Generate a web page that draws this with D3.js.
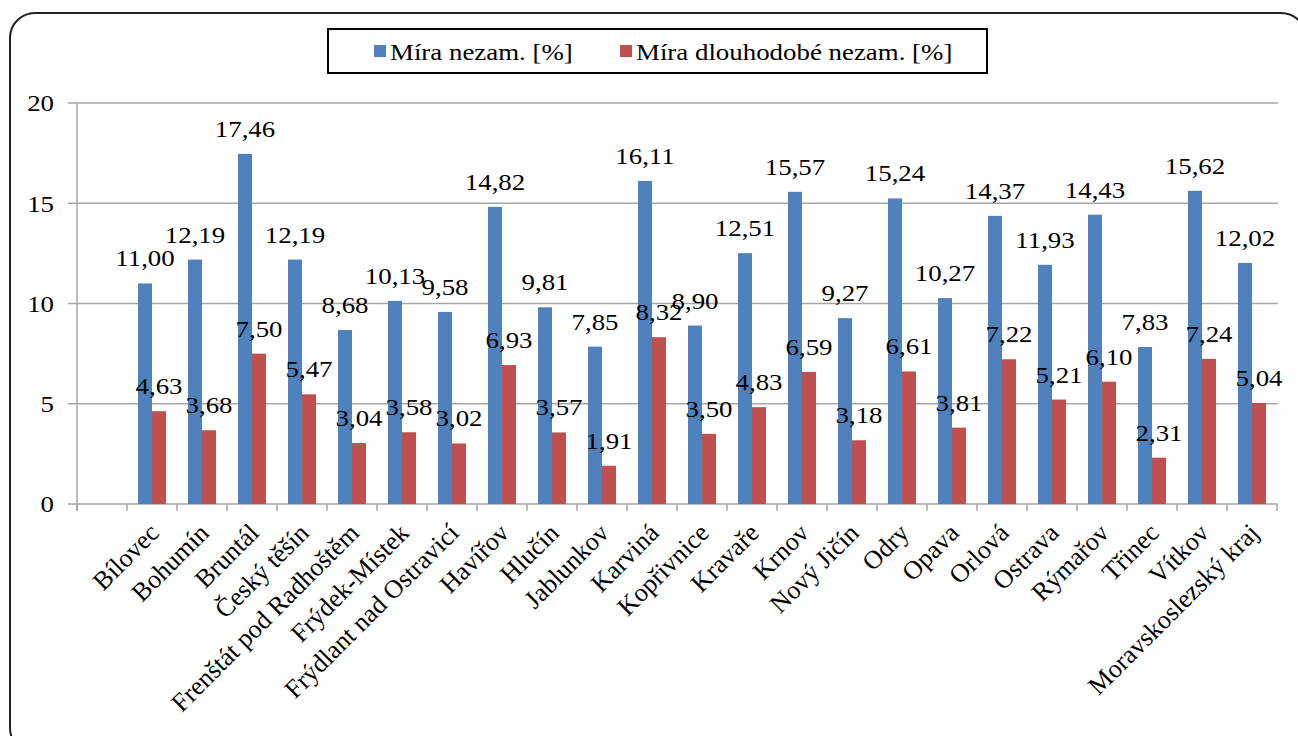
<!DOCTYPE html>
<html><head><meta charset="utf-8">
<script src="https://cdn.jsdelivr.net/npm/d3@7"></script>
<style>
body{margin:0;background:#fff;}
</style></head>
<body><svg id="c" width="1298" height="736"></svg>
<script>
const categories = ["", "Bílovec","Bohumín","Bruntál","Český těšín","Frenštát pod Radhoštěm","Frýdek-Místek","Frýdlant nad Ostravicí","Havířov","Hlučín","Jablunkov","Karviná","Kopřivnice","Kravaře","Krnov","Nový Jičín","Odry","Opava","Orlová","Ostrava","Rýmařov","Třinec","Vítkov","Moravskoslezský kraj"];
const miraNezam = [null,11.00,12.19,17.46,12.19,8.68,10.13,9.58,14.82,9.81,7.85,16.11,8.90,12.51,15.57,9.27,15.24,10.27,14.37,11.93,14.43,7.83,15.62,12.02];
const miraDlouhodobe = [null,4.63,3.68,7.50,5.47,3.04,3.58,3.02,6.93,3.57,1.91,8.32,3.50,4.83,6.59,3.18,6.61,3.81,7.22,5.21,6.10,2.31,7.24,5.04];
const seriesNames = ["Míra nezam. [%]","Míra dlouhodobé nezam. [%]"];
const yTicks = [0,5,10,15,20];
const colors = ["#4f81bd","#c0504d"];

const FONT = '"Liberation Serif", "Times New Roman", Times, serif';
const svg = d3.select("#c").attr("font-family",FONT);
const L=77, R=1277, T=103, B=504;
const sx = 1.12;
// frame
svg.append("rect").attr("x",10).attr("y",13).attr("width",1296).attr("height",740)
  .attr("rx",25).attr("fill","none").attr("stroke","#222").attr("stroke-width",2);

const x = d3.scaleBand().domain(categories.map((c,i)=>i)).range([L,R]).padding(0);
const bw = x.bandwidth();
const x1 = d3.scaleBand().domain([0,1]).range([bw*0.22,bw*0.78]).padding(0);
const y = d3.scaleLinear().domain([0,20]).range([B,T]);

// gridlines
svg.append("g").selectAll("line").data(yTicks).join("line")
  .attr("x1",68).attr("x2",R+1).attr("y1",d=>y(d)).attr("y2",d=>y(d))
  .attr("stroke","#a6a6a6").attr("stroke-width",1.5);
// y axis line
svg.append("line").attr("x1",L).attr("x2",L).attr("y1",T).attr("y2",B+7)
  .attr("stroke","#a6a6a6").attr("stroke-width",1.5);
// x ticks
const bounds = categories.map((c,i)=>x(i)).concat([R]);
svg.append("g").selectAll("line").data(bounds).join("line")
  .attr("x1",d=>d).attr("x2",d=>d).attr("y1",B).attr("y2",B+7)
  .attr("stroke","#a6a6a6").attr("stroke-width",1.5);
// y labels
svg.append("g").selectAll("text").data(yTicks).join("text")
  .attr("font-family",FONT)
  .attr("transform",d=>`translate(54,${y(d)}) scale(${sx},1)`)
  .attr("text-anchor","end").attr("dy","0.35em").attr("font-size",24).text(d=>d);

const series=[miraNezam,miraDlouhodobe];
const fmt = v => v.toFixed(2).replace(".",",");
series.forEach((vals,s)=>{
  const data = vals.map((v,i)=>({v,i})).filter(d=>d.v!=null);
  svg.append("g").selectAll("rect").data(data).join("rect")
    .attr("x",d=>x(d.i)+x1(s)).attr("width",x1.bandwidth())
    .attr("y",d=>y(d.v)).attr("height",d=>B-y(d.v)).attr("fill",colors[s]);
});
series.forEach((vals,s)=>{
  const data = vals.map((v,i)=>({v,i})).filter(d=>d.v!=null);
  svg.append("g").selectAll("text").data(data).join("text")
    .attr("font-family",FONT)
    .attr("transform",d=>`translate(${x(d.i)+x1(s)+x1.bandwidth()/2},${y(d.v)-17}) scale(${sx},1)`)
    .attr("text-anchor","middle").attr("font-size",24).text(d=>fmt(d.v));
});
// x labels
svg.append("g").selectAll("text").data(categories.map((c,i)=>({c,i}))).join("text")
  .attr("font-family",FONT)
  .attr("transform",d=>`translate(${x(d.i)+bw/2+2},${B+24}) rotate(-45)`)
  .attr("text-anchor","end").attr("dy","0.35em").attr("font-size",26).text(d=>d.c);

// legend
svg.append("rect").attr("x",328).attr("y",29).attr("width",659).attr("height",44)
  .attr("fill","#fff").attr("stroke","#000").attr("stroke-width",2);
const legX=[374,620];
seriesNames.forEach((n,s)=>{
  svg.append("rect").attr("x",legX[s]).attr("y",45).attr("width",12).attr("height",12).attr("fill",colors[s]);
  svg.append("text").attr("font-family",FONT).attr("transform",`translate(${legX[s]+16},60) scale(${sx},1)`)
    .attr("font-size",24).text(n);
});
</script></body></html>
